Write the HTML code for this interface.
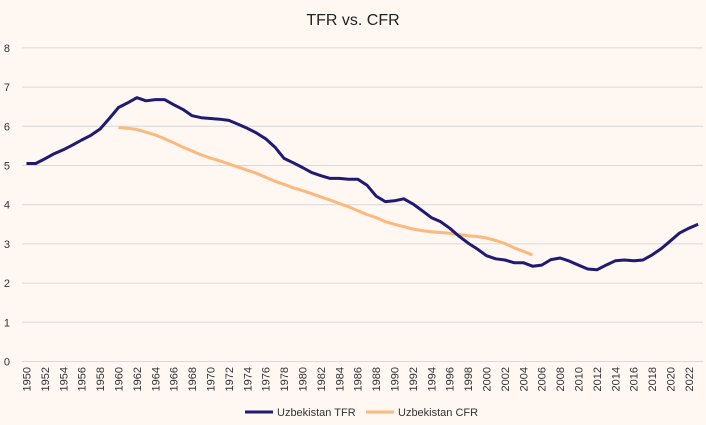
<!DOCTYPE html>
<html><head><meta charset="utf-8"><style>
body{margin:0;background:#FFF7F2;font-family:"Liberation Sans",sans-serif;}
svg{display:block}
</style></head><body>
<svg id="chart" width="706" height="425" viewBox="0 0 706 425">
<rect width="706" height="425" fill="#FFF7F2"/>
<text x="353" y="25" text-anchor="middle" font-size="16" fill="#222">TFR vs. CFR</text>
<g id="grid"></g><g id="xt"></g><g id="lines"></g>
<g>
<line x1="245" y1="412" x2="273" y2="412" stroke="#1F1A73" stroke-width="3"/>
<text x="277" y="416" font-size="11" fill="#333">Uzbekistan TFR</text>
<line x1="366" y1="412" x2="394" y2="412" stroke="#FDB97D" stroke-width="3"/>
<text x="398" y="416" font-size="11" fill="#333">Uzbekistan CFR</text>
</g>
</svg>
<script>
const yTicks=[0,1,2,3,4,5,6,7,8];
const tfrStart=1950;
const tfr=[5.05,5.05,5.17,5.3,5.4,5.52,5.65,5.77,5.93,6.2,6.48,6.6,6.73,6.65,6.68,6.68,6.55,6.43,6.27,6.22,6.2,6.18,6.15,6.05,5.95,5.83,5.68,5.47,5.18,5.07,4.95,4.82,4.74,4.67,4.67,4.65,4.65,4.5,4.22,4.08,4.1,4.15,4.02,3.85,3.67,3.57,3.4,3.2,3.02,2.87,2.7,2.62,2.59,2.52,2.52,2.43,2.46,2.6,2.64,2.56,2.46,2.36,2.34,2.46,2.57,2.59,2.57,2.59,2.72,2.88,3.08,3.28,3.4,3.5];
const cfrStart=1960;
const cfr=[5.97,5.95,5.92,5.85,5.78,5.68,5.58,5.47,5.37,5.27,5.19,5.12,5.04,4.96,4.88,4.8,4.7,4.6,4.52,4.43,4.36,4.28,4.2,4.12,4.03,3.95,3.85,3.75,3.67,3.57,3.5,3.44,3.38,3.34,3.31,3.29,3.27,3.24,3.21,3.19,3.15,3.09,3.01,2.9,2.81,2.72];
const NS='http://www.w3.org/2000/svg';
const X=yr=>26.5+(yr-1950)*9.2;
const Y=v=>361.5-v*39.2;
function mk(t,a,p){const e=document.createElementNS(NS,t);for(const k in a)e.setAttribute(k,a[k]);document.getElementById(p).appendChild(e);return e;}
yTicks.forEach(v=>{
 const l=mk('line',{x1:22,x2:703,y1:Y(v),y2:Y(v),stroke:'#D9D9D9','stroke-width':1},'grid');
 
 
 const t=mk('text',{x:10,y:Y(v)+4,'font-size':11,fill:'#333','text-anchor':'end'},'grid');
 
 
 t.textContent=v;
});
for(let yr=1950;yr<=2022;yr+=2){
 const t=mk('text',{transform:`translate(${X(yr)+4},367) rotate(-90)`,'font-size':11,fill:'#333','text-anchor':'end'},'xt');
 
 
 t.textContent=yr;
}
function series(vals,start,color,name){
 const pts=vals.map((v,i)=>X(start+i).toFixed(1)+','+Y(v).toFixed(1)).join(' ');
 const p=mk('polyline',{points:pts,fill:'none',stroke:color,'stroke-width':3,'stroke-linejoin':'round'},'lines');
 
 
}
series(cfr,cfrStart,'#FDB97D','cfr-line');
series(tfr,tfrStart,'#1F1A73','tfr-line');
</script>
</body></html>
